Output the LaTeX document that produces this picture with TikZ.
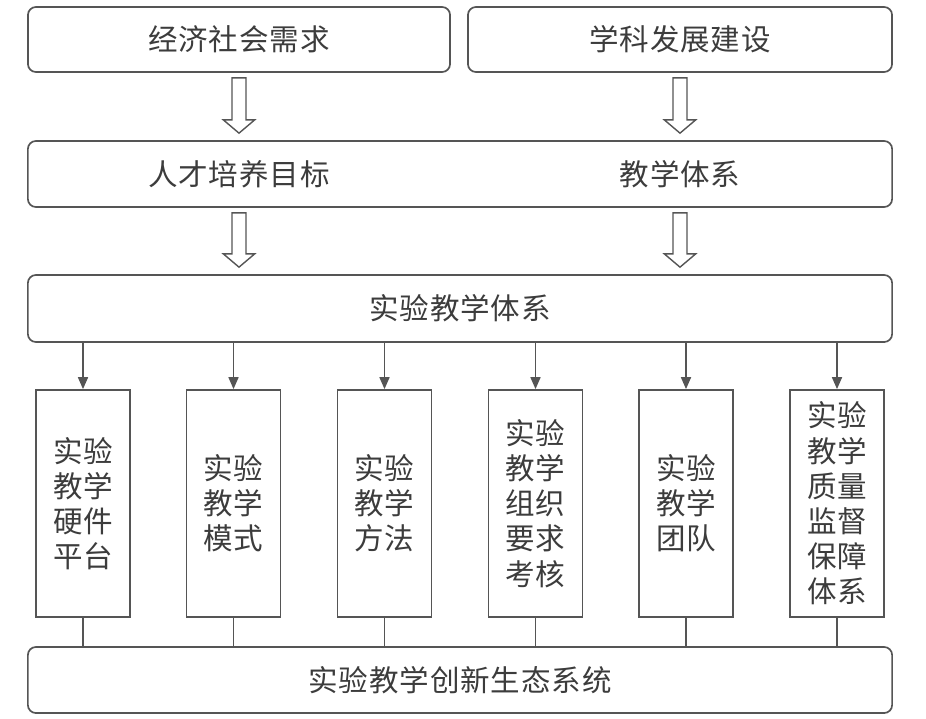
\documentclass[tikz,border=0pt]{standalone}
\usepackage{fontspec}
\setmainfont{Noto Sans CJK SC}[LetterSpace=3]
\usepackage{xcolor}
\usepackage{tikz}
\usetikzlibrary{arrows.meta, positioning, calc}

\definecolor{inkgray}{HTML}{3C3C3C}
\definecolor{linegray}{HTML}{555555}

\begin{document}
\begin{tikzpicture}[
    x=0.025cm, y=-0.025cm,
    line width=1.2pt,
    every node/.style={text=inkgray, font=\fontsize{21}{25}\selectfont},
    topbox/.style={draw=linegray, rounded corners=0.2cm, minimum height=1.625cm},
    widebox/.style={draw=linegray, rounded corners=0.2cm, minimum width=21.6cm, minimum height=1.65cm},
    colbox/.style={draw=linegray, minimum width=2.35cm, minimum height=5.675cm, align=center, inner sep=2pt},
    hollow/.style={draw=linegray, line width=1pt, to path={
        let \p1=(\tikztostart), \p2=(\tikztotarget) in
        (\x1-0.175cm,\y1-0.125cm) -- (\x1-0.175cm,\y2+0.505cm) -- (\x1-0.39cm,\y2+0.505cm)
        -- (\x1,\y2+0.175cm) -- (\x1+0.39cm,\y2+0.505cm) -- (\x1+0.175cm,\y2+0.505cm)
        -- (\x1+0.175cm,\y1-0.125cm) -- cycle}},
]
\useasboundingbox (0,0) rectangle (926,718);

% sources
\node[topbox, minimum width=10.55cm] (econ) at (239,39.5) {经济社会需求};
\node[topbox, minimum width=10.6cm] (subj) at (680,39.5) {学科发展建设};

% goals band
\node[widebox] (band) at (460,174) {};
\node (talent) at (239,174) {人才培养目标};
\node (teach) at (680,174) {教学体系};

\node[widebox, minimum height=1.675cm] (sys) at (460,308.5) {实验教学体系};

% six parts
\foreach \name/\x/\txt in {hw/83/{实验\\教学\\硬件\\平台}, mode/233.5/{实验\\教学\\模式},
    meth/384.5/{实验\\教学\\方法}, org/535.5/{实验\\教学\\组织\\要求\\考核},
    team/686/{实验\\教学\\团队}, qual/837/{实验\\教学\\质量\\监督\\保障\\体系}}
    \node[colbox] (\name) at (\x,503.5) {\txt};

\node[widebox] (eco) at (460,680) {实验教学创新生态系统};

\draw[hollow] (econ.south) to (talent |- band.north);
\draw[hollow] (subj.south) to (teach |- band.north);
\draw[hollow] (talent |- band.south) to (talent |- sys.north);
\draw[hollow] (teach |- band.south) to (teach |- sys.north);

\foreach \c in {hw,mode,meth,org,team,qual} {
    \draw[draw=linegray, -{Triangle[length=0.3cm,width=0.25cm]}] (\c |- sys.south) -- (\c.north);
    \draw[draw=linegray] (\c.south) -- (\c |- eco.north);
}
\end{tikzpicture}
\end{document}
